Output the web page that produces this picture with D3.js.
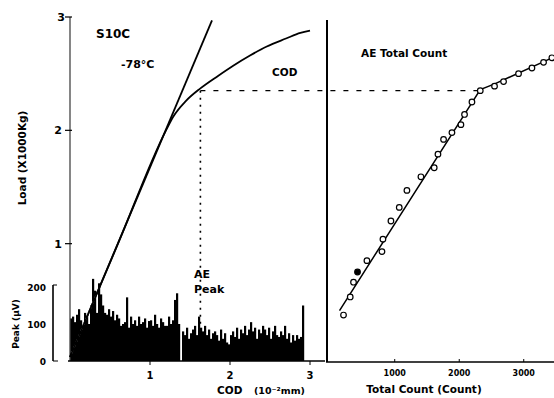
<!DOCTYPE html>
<html><head><meta charset="utf-8">
<script src="https://d3js.org/d3.v7.min.js"></script>
<style>body{margin:0;background:#fff}svg{display:block}text{font-family:"DejaVu Sans",sans-serif;font-weight:bold;fill:#000}</style>
</head><body><div id="c"></div>
<script>
// ---- data ----
const loadTicks = [1, 2, 3];
const peakTicks = [0, 100, 200];
const codTicks = [1, 2, 3];
const countTicks = [1000, 2000, 3000];
const countTickLabels = ["1000", "2000", "3000"];
// load-COD curve
const curveCod  = [0, 0.6, 1.2, 1.29, 1.45, 1.63, 1.85, 2.04, 2.25, 2.46, 2.7, 2.88, 3.0];
const curveLoad = [0, 1.0, 2.0, 2.12, 2.26, 2.37, 2.48, 2.57, 2.66, 2.74, 2.81, 2.86, 2.88];
// tangent (elastic) line
const tangentCod  = [0, 1.775];
const tangentLoad = [0, 2.97];
// reference point (COD at onset)
const refCod = 1.63, refLoad = 2.35, refCount = 2326;
// AE peak amplitude bars (COD step 0.025)
const peakStep = 0.025;
const peakValues = [115,120,105,125,140,110,95,130,120,100,150,222,190,130,210,180,
 150,130,125,140,120,135,110,125,115,95,100,105,172,90,120,100,110,95,120,100,105,115,90,108,
 110,95,125,100,90,115,105,95,95,120,100,110,165,183,100,0,
 80,70,90,60,75,85,95,70,120,90,80,95,70,85,60,75,80,70,55,85,60,75,50,45,
 70,80,65,90,60,85,75,95,70,85,105,80,90,60,85,75,95,85,70,90,60,80,95,70,
 65,80,70,95,60,75,50,70,55,70,60,65,150];
// AE total count vs load
const aeCount = [206,310,361,423,569,802,817,941,1070,1189,1406,1612,1670,1757,1887,2026,2082,2197,2326,2547,2687,2919,3127,3307,3436];
const aeLoad  = [0.37,0.53,0.66,0.75,0.85,0.93,1.04,1.20,1.32,1.47,1.59,1.67,1.79,1.92,1.98,2.05,2.14,2.25,2.35,2.39,2.43,2.50,2.55,2.60,2.64];
const aeFilled = [false,false,false,true,false,false,false,false,false,false,false,false,false,false,false,false,false,false,false,false,false,false,false,false,false];
const fitCount = [144, 2326, 2550, 3480];
const fitLoad  = [0.41, 2.36, 2.41, 2.65];

// ---- chart ----
const W = 554, H = 398;
const svg = d3.select("#c").append("svg").attr("width", W).attr("height", H);

const xC = d3.scaleLinear().domain([0, 3]).range([70, 310]);
const yL = d3.scaleLinear().domain([0, 3]).range([357, 17]);
const yP = d3.scaleLinear().domain([0, 200]).range([361, 287]);
const xR = d3.scaleLinear().domain([-50, 3500]).range([327, 556]);

// bars
svg.append("g").selectAll("rect").data(peakValues).join("rect")
  .attr("x", (d, i) => xC(i * peakStep))
  .attr("width", xC(peakStep) - xC(0) + 0.2)
  .attr("y", d => yP(d))
  .attr("height", d => yP(0) - yP(d))
  .attr("fill", "#000");

// left axes
const gl = svg.append("g");
gl.append("line").attr("x1", xC(0)).attr("x2", xC(0)).attr("y1", yL(3)).attr("y2", 361)
  .attr("stroke", "#444").attr("stroke-width", 1.3);
gl.selectAll(".lt").data(loadTicks).join("line")
  .attr("x1", xC(0) - 5).attr("x2", xC(0) + 2).attr("y1", d => yL(d)).attr("y2", d => yL(d))
  .attr("stroke", "#000").attr("stroke-width", 1.2);
gl.selectAll(".ll").data(loadTicks).join("text")
  .attr("x", d => d === 3 ? 65 : 62).attr("y", d => yL(d) + 4)
  .attr("text-anchor", "end").attr("font-size", 11).text(d => d);

// peak axis
gl.append("line").attr("x1", 53).attr("x2", 53).attr("y1", yP(200) - 2).attr("y2", yP(0))
  .attr("stroke", "#333").attr("stroke-width", 2);
gl.append("line").attr("x1", 53).attr("x2", 57).attr("y1", yP(200) - 2).attr("y2", yP(200) - 2).attr("stroke", "#000");
gl.append("line").attr("x1", 53).attr("x2", 58).attr("y1", yP(0)).attr("y2", yP(0)).attr("stroke", "#000");
gl.selectAll(".pl").data(peakTicks).join("text")
  .attr("x", 46).attr("y", d => yP(d) + 4)
  .attr("text-anchor", "end").attr("font-size", 9).text(d => d);

// COD axis
gl.append("line").attr("x1", 68).attr("x2", 325).attr("y1", 361).attr("y2", 361)
  .attr("stroke", "#000").attr("stroke-width", 1.5);
gl.selectAll(".ct").data(codTicks).join("line")
  .attr("x1", d => xC(d)).attr("x2", d => xC(d)).attr("y1", 361).attr("y2", 365).attr("stroke", "#000");
gl.selectAll(".cl").data(codTicks).join("text")
  .attr("x", d => xC(d)).attr("y", 379).attr("text-anchor", "middle").attr("font-size", 10).text(d => d);

// load curve and tangent
const line = d3.line().x(d => xC(d[0])).y(d => yL(d[1]));
svg.append("path").datum(d3.zip(tangentCod, tangentLoad)).attr("d", line)
  .attr("fill", "none").attr("stroke", "#000").attr("stroke-width", 1.8);
// white dashed part inside the bars
const tSlope = tangentLoad[1] / tangentCod[1];
svg.append("path").datum([[0.02, 0.02 * tSlope], [0.33, 0.33 * tSlope]]).attr("d", line)
  .attr("fill", "none").attr("stroke", "#fff").attr("stroke-width", 1.2).attr("stroke-dasharray", "3,3");
svg.append("path").datum(d3.zip(curveCod, curveLoad))
  .attr("d", d3.line().x(d => xC(d[0])).y(d => yL(d[1])).curve(d3.curveMonotoneX))
  .attr("fill", "none").attr("stroke", "#000").attr("stroke-width", 1.8);

// reference lines
svg.append("line").attr("x1", xC(refCod)).attr("x2", xC(refCod)).attr("y1", yL(refLoad)).attr("y2", 361)
  .attr("stroke", "#000").attr("stroke-width", 1.6).attr("stroke-dasharray", "2,5");
svg.append("line").attr("x1", xC(refCod)).attr("x2", xR(refCount)).attr("y1", yL(refLoad)).attr("y2", yL(refLoad))
  .attr("stroke", "#000").attr("stroke-width", 1.2).attr("stroke-dasharray", "5,8");

// right panel axes
const gr = svg.append("g");
gr.append("line").attr("x1", xR(-50)).attr("x2", xR(-50)).attr("y1", 20).attr("y2", 362)
  .attr("stroke", "#000").attr("stroke-width", 2);
gr.append("line").attr("x1", xR(-50) - 1).attr("x2", 554).attr("y1", 362).attr("y2", 362)
  .attr("stroke", "#000").attr("stroke-width", 1.5);
gr.selectAll(".rt").data(countTicks).join("line")
  .attr("x1", d => xR(d)).attr("x2", d => xR(d)).attr("y1", 359).attr("y2", 362).attr("stroke", "#000");
gr.selectAll(".rl").data(countTicks).join("text")
  .attr("x", d => xR(d)).attr("y", 376).attr("text-anchor", "middle").attr("font-size", 8)
  .attr("font-weight", "normal").text((d, i) => countTickLabels[i]);

// fit line and points
const lineR = d3.line().x(d => xR(d[0])).y(d => yL(d[1]));
svg.append("path").datum(d3.zip(fitCount, fitLoad)).attr("d", lineR)
  .attr("fill", "none").attr("stroke", "#000").attr("stroke-width", 1.5);
svg.append("g").selectAll("circle").data(d3.range(aeCount.length)).join("circle")
  .attr("cx", i => xR(aeCount[i])).attr("cy", i => yL(aeLoad[i])).attr("r", 2.8)
  .attr("fill", i => aeFilled[i] ? "#000" : "#fff").attr("stroke", "#000").attr("stroke-width", 1.2);

// labels
svg.append("text").attr("x", 96).attr("y", 38).attr("font-size", 12).text("S10C");
svg.append("text").attr("x", 121).attr("y", 68).attr("font-size", 11).text("-78°C");
svg.append("text").attr("x", 272).attr("y", 76).attr("font-size", 10.5).text("COD");
svg.append("text").attr("x", 361).attr("y", 57).attr("font-size", 10.5).text("AE Total Count");
svg.append("text").attr("x", 194).attr("y", 278).attr("font-size", 11).text("AE");
svg.append("text").attr("x", 194).attr("y", 293).attr("font-size", 11).text("Peak");
svg.append("text").attr("x", 217).attr("y", 394).attr("font-size", 10.5).text("COD");
svg.append("text").attr("x", 254).attr("y", 394).attr("font-size", 9.5).attr("font-weight", "normal").text("(10⁻²mm)");
svg.append("text").attr("x", 424).attr("y", 393).attr("text-anchor", "middle").attr("font-size", 10.5).text("Total Count (Count)");
svg.append("text").attr("transform", "translate(26,158) rotate(-90)").attr("text-anchor", "middle")
  .attr("font-size", 10.5).text("Load (X1000Kg)");
svg.append("text").attr("transform", "translate(19,324) rotate(-90)").attr("text-anchor", "middle")
  .attr("font-size", 9).text("Peak (μV)");
</script></body></html>
